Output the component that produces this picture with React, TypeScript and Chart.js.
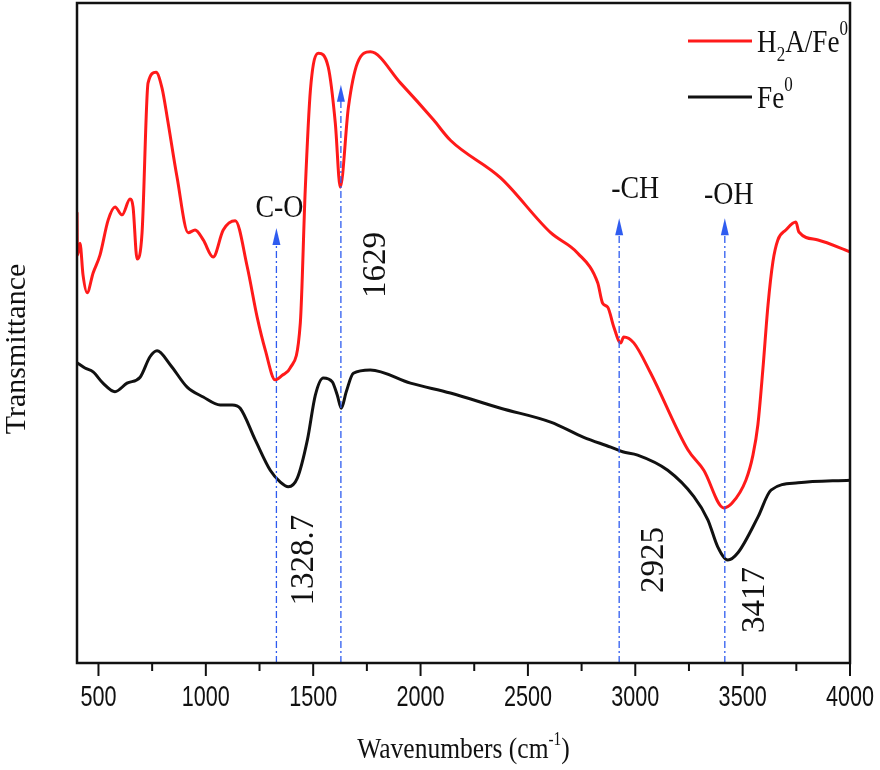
import React, { useEffect, useRef } from 'react';
import { Chart, registerables } from 'chart.js';

Chart.register(...registerables);

// ---- data ----
const redWavenumbers = [400, 402, 414, 428, 447, 475, 507, 545, 577, 610, 647, 661, 680, 703, 731, 768, 796, 820, 866, 918, 950, 988, 1034, 1081, 1137, 1193, 1239, 1277, 1323, 1356, 1393, 1440, 1463, 1487, 1524, 1570, 1603, 1626, 1664, 1706, 1766, 1906, 2060, 2139, 2373, 2606, 2732, 2825, 2848, 2872, 2900, 2932, 2946, 2993, 3072, 3245, 3319, 3412, 3450, 3515, 3548, 3571, 3594, 3618, 3641, 3664, 3701, 3748, 3762, 3851, 4000];
const redTransmittance = [68.3, 61.8, 63.6, 58.8, 56.1, 59.1, 61.8, 67.1, 69.1, 67.9, 70.3, 69.1, 61.2, 65.2, 87.9, 89.5, 87.1, 82.7, 73.6, 65.2, 65.6, 64.1, 61.5, 65.6, 67.0, 60.0, 52.4, 47.4, 42.9, 43.6, 44.7, 51.5, 71.7, 86.8, 92.4, 90.3, 81.8, 72.1, 84.2, 90.9, 92.6, 87.9, 82.3, 79.2, 73.5, 65.2, 62.1, 57.6, 54.5, 53.9, 50.9, 48.5, 49.4, 48.5, 43.9, 32.3, 29.2, 23.5, 24.2, 27.7, 31.5, 36.1, 44.4, 54.2, 60.8, 64.1, 65.6, 66.8, 65.3, 64.1, 62.3];

const blackWavenumbers = [400, 437, 475, 521, 577, 633, 694, 740, 773, 834, 913, 988, 1067, 1123, 1160, 1230, 1300, 1347, 1384, 1426, 1473, 1510, 1547, 1589, 1612, 1631, 1654, 1687, 1766, 1953, 2139, 2373, 2606, 2760, 2886, 2941, 3011, 3151, 3273, 3338, 3384, 3431, 3478, 3571, 3632, 3758, 4000];
const blackTransmittance = [45.5, 44.7, 44.1, 42.4, 41.1, 42.4, 43.3, 46.4, 47.3, 45.2, 41.8, 40.3, 39.1, 39.1, 38.6, 33.8, 29.2, 27.4, 26.7, 28.0, 33.8, 40.6, 43.2, 42.6, 40.6, 38.6, 41.1, 43.9, 44.4, 42.4, 40.9, 38.6, 36.5, 34.2, 32.7, 32.0, 31.5, 29.2, 25.2, 21.7, 17.6, 15.6, 16.7, 22.1, 26.2, 27.3, 27.7];

const peakWavenumbers = [1328.7, 1629, 2925, 3417];
const peakLabels = ['1328.7', '1629', '2925', '3417'];
const groupLabels = ['C-O', '', '-CH', '-OH'];
const arrowTipLevels = [65.9, 87.6, 67.4, 67.4];

const majorTicks = [500, 1000, 1500, 2000, 2500, 3000, 3500, 4000];
const minorTicks = [750, 1250, 1750, 2250, 2750, 3250, 3750];

// ---- layout / style (not data) ----
const groupLabelPlacement = [
  { dx: 3, dy: -11 },
  { dx: 0, dy: 0 },
  { dx: 16, dy: -20 },
  { dx: 4, dy: -14 },
];
const peakLabelPlacement = [
  { dx: 37, cy: 560 },
  { dx: 44, cy: 265 },
  { dx: 44, cy: 560 },
  { dx: 39, cy: 600 },
];

const SERIF = '"Liberation Serif", "Times New Roman", serif';
const SANS = '"Liberation Sans", Arial, sans-serif';
const RED = '#ff1a1a';
const BLACK = '#111111';
const BLUE = '#2f5cf0';

type Part = { t: string; size: number; dy: number };

function drawRich(ctx: CanvasRenderingContext2D, parts: Part[], x: number, y: number, sx: number, align: 'left' | 'center') {
  ctx.save();
  let total = 0;
  for (const p of parts) {
    ctx.font = `${p.size}px ${SERIF}`;
    total += ctx.measureText(p.t).width;
  }
  ctx.translate(x, y);
  ctx.scale(sx, 1);
  let cx = align === 'center' ? -total / 2 : 0;
  ctx.textAlign = 'left';
  ctx.textBaseline = 'alphabetic';
  for (const p of parts) {
    ctx.font = `${p.size}px ${SERIF}`;
    ctx.fillText(p.t, cx, p.dy);
    cx += ctx.measureText(p.t).width;
  }
  ctx.restore();
}

function drawText(ctx: CanvasRenderingContext2D, s: string, x: number, y: number, font: string, sx: number, rot: number) {
  ctx.save();
  ctx.translate(x, y);
  if (rot) ctx.rotate(rot);
  ctx.scale(sx, 1);
  ctx.font = font;
  ctx.textAlign = 'center';
  ctx.textBaseline = 'alphabetic';
  ctx.fillText(s, 0, 0);
  ctx.restore();
}

const decorPlugin = {
  id: 'ftirDecor',
  afterDatasetsDraw(chart: any) {
    const ctx: CanvasRenderingContext2D = chart.ctx;
    const xs = chart.scales.x;
    const ys = chart.scales.y;
    const area = chart.chartArea;
    ctx.save();
    peakWavenumbers.forEach((w, i) => {
      const px = xs.getPixelForValue(w);
      const tip = ys.getPixelForValue(arrowTipLevels[i]);
      ctx.strokeStyle = BLUE;
      ctx.lineWidth = 1.3;
      ctx.setLineDash([7, 3, 2, 3]);
      ctx.beginPath();
      ctx.moveTo(px, area.bottom);
      ctx.lineTo(px, tip + 10);
      ctx.stroke();
      ctx.setLineDash([]);
      ctx.fillStyle = BLUE;
      ctx.beginPath();
      ctx.moveTo(px, tip);
      ctx.lineTo(px - 4, tip + 17);
      ctx.lineTo(px + 4, tip + 17);
      ctx.closePath();
      ctx.fill();
    });
    ctx.restore();
  },
  afterDraw(chart: any) {
    const ctx: CanvasRenderingContext2D = chart.ctx;
    const xs = chart.scales.x;
    const ys = chart.scales.y;
    const area = chart.chartArea;
    ctx.save();
    // frame
    ctx.strokeStyle = BLACK;
    ctx.lineWidth = 2.5;
    ctx.strokeRect(area.left, area.top, area.right - area.left, area.bottom - area.top);
    // ticks
    ctx.lineWidth = 2;
    majorTicks.forEach((t) => {
      const px = xs.getPixelForValue(t);
      ctx.beginPath();
      ctx.moveTo(px, area.bottom);
      ctx.lineTo(px, area.bottom + 13);
      ctx.stroke();
    });
    minorTicks.forEach((t) => {
      const px = xs.getPixelForValue(t);
      ctx.beginPath();
      ctx.moveTo(px, area.bottom);
      ctx.lineTo(px, area.bottom + 8);
      ctx.stroke();
    });
    ctx.fillStyle = BLACK;
    majorTicks.forEach((t) => {
      const px = xs.getPixelForValue(t);
      drawText(ctx, String(t), px, area.bottom + 43, `30px ${SANS}`, 0.72, 0);
    });
    // axis titles
    drawRich(ctx, [
      { t: 'Wavenumbers (cm', size: 30, dy: 0 },
      { t: '-1', size: 18, dy: -13 },
      { t: ')', size: 30, dy: 0 },
    ], (area.left + area.right) / 2, 758, 0.85, 'center');
    drawText(ctx, 'Transmittance', 25, (area.top + area.bottom) / 2 + 16, `30px ${SERIF}`, 1, -Math.PI / 2);

    // annotation labels
    peakWavenumbers.forEach((w, i) => {
      const px = xs.getPixelForValue(w);
      const tip = ys.getPixelForValue(arrowTipLevels[i]);
      if (groupLabels[i]) {
        const g = groupLabelPlacement[i];
        drawText(ctx, groupLabels[i], px + g.dx, tip + g.dy, `31px ${SERIF}`, 0.9, 0);
      }
      const p = peakLabelPlacement[i];
      drawText(ctx, peakLabels[i], px + p.dx, p.cy, `33px ${SERIF}`, 1, -Math.PI / 2);
    });

    // legend
    const legend = [
      { color: RED, y: 41, parts: [
        { t: 'H', size: 32, dy: 0 },
        { t: '2', size: 20, dy: 9 },
        { t: 'A/Fe', size: 32, dy: 0 },
        { t: '0', size: 20, dy: -17 },
      ] },
      { color: BLACK, y: 97, parts: [
        { t: 'Fe', size: 32, dy: 0 },
        { t: '0', size: 20, dy: -17 },
      ] },
    ];
    legend.forEach((l) => {
      ctx.strokeStyle = l.color;
      ctx.lineWidth = 3;
      ctx.beginPath();
      ctx.moveTo(688, l.y);
      ctx.lineTo(752, l.y);
      ctx.stroke();
      ctx.fillStyle = BLACK;
      drawRich(ctx, l.parts, 757, l.y + 11, 0.85, 'left');
    });
    ctx.restore();
  },
};

export default function App() {
  const ref = useRef<HTMLCanvasElement | null>(null);
  useEffect(() => {
    if (!ref.current) return;
    const chart = new Chart(ref.current, {
      type: 'line',
      data: {
        datasets: [
          {
            label: 'H2A/Fe0',
            data: redWavenumbers.map((x, i) => ({ x, y: redTransmittance[i] })),
            borderColor: RED,
            borderWidth: 3,
            pointRadius: 0,
            cubicInterpolationMode: 'monotone',
            fill: false,
          },
          {
            label: 'Fe0',
            data: blackWavenumbers.map((x, i) => ({ x, y: blackTransmittance[i] })),
            borderColor: BLACK,
            borderWidth: 3,
            pointRadius: 0,
            cubicInterpolationMode: 'monotone',
            fill: false,
          },
        ],
      },
      options: {
        animation: false,
        responsive: false,
        maintainAspectRatio: false,
        devicePixelRatio: 1,
        layout: { padding: { left: 77, right: 30, top: 3, bottom: 107 } },
        plugins: { legend: { display: false }, tooltip: { enabled: false } },
        scales: {
          x: { type: 'linear', min: 400, max: 4000, display: false },
          y: { type: 'linear', min: 0, max: 100, display: false },
        },
      },
      plugins: [decorPlugin],
    });
    return () => chart.destroy();
  }, []);
  return (
    <div style={{ position: 'absolute', left: 0, top: 0, width: 880, height: 770, background: '#fff' }}>
      <canvas ref={ref} width={880} height={770} style={{ display: 'block' }} />
    </div>
  );
}
